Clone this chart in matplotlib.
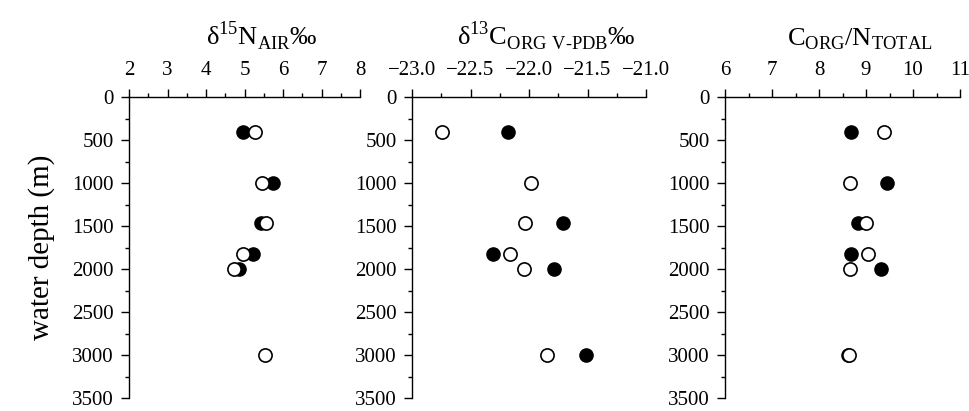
import numpy as np
import matplotlib
matplotlib.use("Agg")
import matplotlib.pyplot as plt
from matplotlib.ticker import MultipleLocator, FuncFormatter

plt.rcParams["font.family"] = ["Liberation Serif", "DejaVu Serif"]
plt.rcParams["mathtext.fontset"] = "custom"
plt.rcParams["mathtext.rm"] = "Liberation Serif"

depth = [410, 1000, 1460, 1820, 2000, 3000]

# filled / open samples for each panel (nan = not shown)
n15_filled = [4.96, 5.73, 5.42, 5.22, 4.85, np.nan]
n15_open = [5.26, 5.45, 5.56, 4.96, 4.73, 5.52]

c13_filled = [-22.18, np.nan, -21.71, -22.31, -21.79, -21.51]
c13_open = [-22.74, -21.98, -22.03, -22.16, -22.04, -21.85]

cn_filled = [8.68, 9.45, 8.84, 8.68, 9.32, 8.61]
cn_open = [9.38, 8.66, 8.99, 9.04, 8.67, 8.64]

titles = ["δ$^{\\rm 15}$N$_{\\rm AIR}$‰",
          "δ$^{\\rm 13}$C$_{\\rm ORG\\ V\\text{-}PDB}$‰",
          "C$_{\\rm ORG}$/N$_{\\rm TOTAL}$"]
xlims = [(2, 8), (-23.0, -21.0), (6, 11)]
xmajor = [1, 0.5, 1]
filled = [n15_filled, c13_filled, cn_filled]
opened = [n15_open, c13_open, cn_open]

fig = plt.figure(figsize=(9.69, 4.11), dpi=100)
lefts = [129, 412, 725]
widths = [231, 234, 235]

for i in range(3):
    ax = fig.add_axes([lefts[i] / 969, 1 - 398 / 411, widths[i] / 969, 301 / 411])
    ax.plot(filled[i], depth, "o", color="black", markersize=9.5, zorder=3)
    ax.plot(opened[i], depth, "o", markerfacecolor="white", markeredgecolor="black",
            markeredgewidth=1.2, markersize=9.5, zorder=4)
    ax.set_xlim(*xlims[i])
    ax.set_ylim(3500, 0)
    ax.xaxis.set_major_locator(MultipleLocator(xmajor[i]))
    ax.xaxis.set_minor_locator(MultipleLocator(xmajor[i] / 2))
    ax.yaxis.set_major_locator(MultipleLocator(500))
    ax.yaxis.set_minor_locator(MultipleLocator(250))
    if i == 1:
        ax.xaxis.set_major_formatter(
            FuncFormatter(lambda v, p: ("%.1f" % v).replace("-", "\u2212")))
    ax.xaxis.tick_top()
    ax.spines["bottom"].set_visible(False)
    ax.spines["right"].set_visible(False)
    ax.spines["top"].set_linewidth(1.0)
    ax.spines["left"].set_linewidth(1.0)
    ax.tick_params(which="major", length=6, width=1.0, labelsize=15, direction="out")
    ax.tick_params(which="minor", length=3, width=1.0, direction="out")
    ax.tick_params(axis="x", which="major", pad=6)
    ax.tick_params(axis="y", which="major", pad=5)
    ax.set_title(titles[i], fontsize=19, x=0.575, pad=37)
    if i == 0:
        ax.set_ylabel("water depth (m)", fontsize=21, labelpad=12)

fig.savefig("out.png", dpi=100)
